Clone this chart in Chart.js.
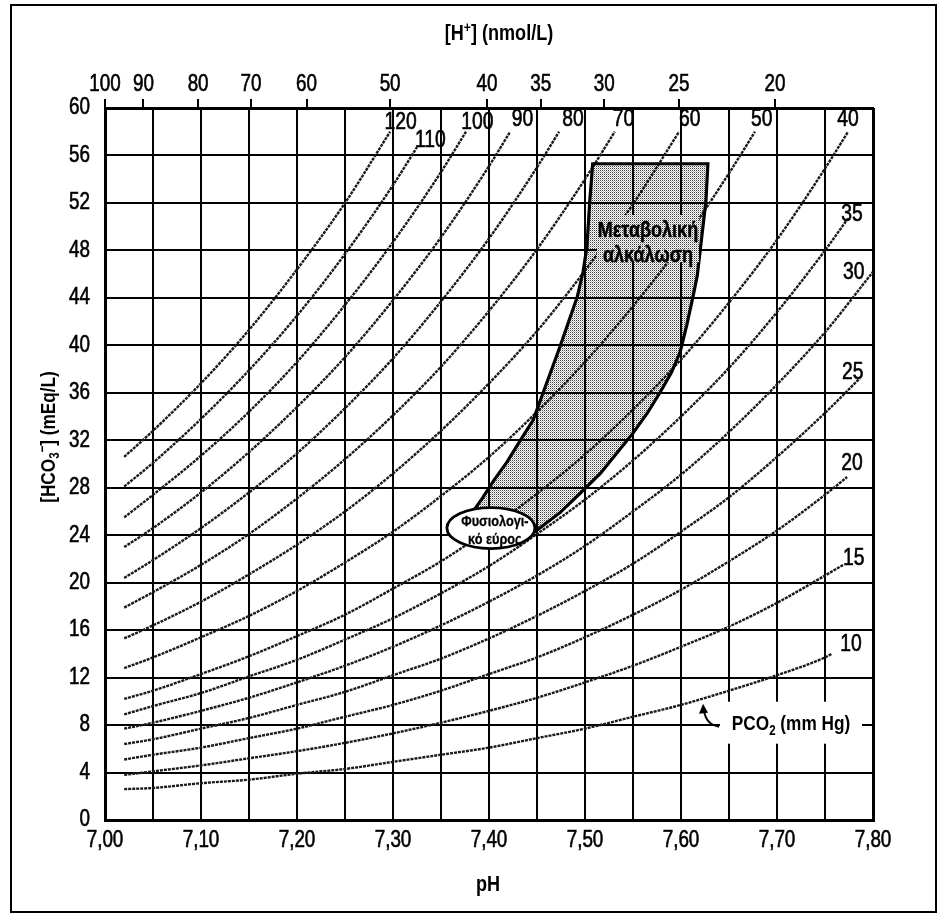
<!DOCTYPE html>
<html>
<head>
<meta charset="utf-8">
<script src="https://cdn.jsdelivr.net/npm/chart.js@4.4.1/dist/chart.umd.min.js"></script>
<style>
html,body{margin:0;padding:0;background:#fff;}
canvas{display:block;}
</style>
</head>
<body>
<canvas id="c" width="942" height="917"></canvas>
<script>
// ---------- DATA ----------
const PH_GRID = [7.02, 7.05, 7.10, 7.15, 7.20, 7.25, 7.30, 7.35, 7.40, 7.45, 7.50, 7.55, 7.60, 7.65, 7.70, 7.75, 7.80];
const PCO2_LEVELS = [10, 15, 20, 25, 30, 35, 40, 50, 60, 70, 80, 90, 100, 110, 120];

// HCO3- (mEq/L) read along each PCO2 isopleth at PH_GRID, last value at the curve's end pH
const HCO3_P10  = [2.6, 2.7, 3.1, 3.4, 3.9, 4.3, 4.9, 5.5, 6.1, 6.9, 7.7, 8.7, 9.7, 10.9, 12.2, 13.7, 14.0];
const HCO3_P15  = [3.8, 4.1, 4.6, 5.2, 5.8, 6.5, 7.3, 8.2, 9.2, 10.3, 11.6, 13.0, 14.6, 16.3, 18.3, 20.6, 21.5];
const HCO3_P20  = [5.1, 5.5, 6.1, 6.9, 7.7, 8.7, 9.7, 10.9, 12.3, 13.7, 15.4, 17.3, 19.4, 21.8, 24.4, 27.4, 28.9];
const HCO3_P25  = [6.4, 6.8, 7.7, 8.6, 9.7, 10.8, 12.2, 13.6, 15.3, 17.2, 19.3, 21.6, 24.3, 27.2, 30.6, 34.3, 37.2];
const HCO3_P30  = [7.7, 8.2, 9.2, 10.3, 11.6, 13.0, 14.6, 16.4, 18.4, 20.6, 23.1, 26.0, 29.1, 32.7, 36.7, 41.1, 46.2];
const HCO3_P35  = [8.9, 9.6, 10.7, 12.1, 13.5, 15.2, 17.0, 19.1, 21.4, 24.1, 27.0, 30.3, 34.0, 38.1, 42.8, 48.0, 50.7];
const HCO3_P40  = [10.2, 10.9, 12.3, 13.8, 15.5, 17.3, 19.5, 21.8, 24.5, 27.5, 30.8, 34.6, 38.8, 43.6, 48.9, 54.9, 58.0];
const HCO3_P50  = [12.8, 13.7, 15.4, 17.2, 19.3, 21.7, 24.3, 27.3, 30.6, 34.4, 38.6, 43.3, 48.5, 54.5, 58.0];
const HCO3_P60  = [15.3, 16.4, 18.4, 20.7, 23.2, 26.0, 29.2, 32.8, 36.8, 41.2, 46.3, 51.9, 58.0];
const HCO3_P70  = [17.9, 19.2, 21.5, 24.1, 27.1, 30.4, 34.1, 38.2, 42.9, 48.1, 54.0, 58.0];
const HCO3_P80  = [20.4, 21.9, 24.6, 27.6, 30.9, 34.7, 38.9, 43.7, 49.0, 55.0, 58.0];
const HCO3_P90  = [23.0, 24.6, 27.6, 31.0, 34.8, 39.0, 43.8, 49.1, 55.1, 58.0];
const HCO3_P100 = [25.5, 27.4, 30.7, 34.4, 38.6, 43.4, 48.7, 54.6, 58.0];
const HCO3_P110 = [28.1, 30.1, 33.8, 37.9, 42.5, 47.7, 53.5, 56.7];
const HCO3_P120 = [30.6, 32.8, 36.8, 41.3, 46.4, 52.0, 58.0];
const CURVE_END_PH = [7.757, 7.769, 7.773, 7.786, 7.80, 7.774, 7.774, 7.677, 7.598, 7.531, 7.473, 7.422, 7.376, 7.325, 7.297];

// where each PCO2 number is written (pH, HCO3)
const CURVE_LABEL_PH   = [7.777, 7.780, 7.778, 7.779, 7.780, 7.778, 7.774, 7.684, 7.609, 7.540, 7.4875, 7.435, 7.388, 7.339, 7.308];
const CURVE_LABEL_HCO3 = [14.9, 22.2, 30.2, 37.9, 46.3, 51.2, 59.2, 59.2, 59.2, 59.2, 59.2, 59.2, 58.9, 57.4, 58.9];

// metabolic alkalosis band outline (pH, HCO3), left edge upward then right edge downward
const REGION_PH   = [7.380, 7.386, 7.393, 7.404, 7.419, 7.432, 7.446, 7.460, 7.474, 7.483, 7.492, 7.498, 7.502, 7.505, 7.508,
                     7.628, 7.626, 7.623, 7.620, 7.617, 7.6125, 7.606, 7.599, 7.590, 7.578, 7.565, 7.550, 7.533, 7.516,
                     7.496, 7.474, 7.448, 7.422, 7.391, 7.380];
const REGION_HCO3 = [25.6, 26.3, 27.1, 28.5, 30.2, 31.9, 33.7, 36.8, 39.9, 42.0, 44.1, 46.2, 48.3, 52.2, 55.3,
                     55.3, 52.2, 50.1, 48.0, 45.9, 44.1, 41.7, 39.4, 37.7, 36.0, 34.3, 32.6, 30.9, 29.2,
                     27.6, 25.9, 24.3, 23.6, 25.0, 25.6];

// axes
const X_TICKS = [7.00, 7.05, 7.10, 7.15, 7.20, 7.25, 7.30, 7.35, 7.40, 7.45, 7.50, 7.55, 7.60, 7.65, 7.70, 7.75, 7.80];
const X_TICK_LABELS = ['7,00', '', '7,10', '', '7,20', '', '7,30', '', '7,40', '', '7,50', '', '7,60', '', '7,70', '', '7,80'];
const Y_TICKS = [0, 4, 8, 12, 16, 20, 24, 28, 32, 36, 40, 44, 48, 52, 56, 60];
const Y_TICK_LABELS = ['0', '4', '8', '12', '16', '20', '24', '28', '32', '36', '40', '44', '48', '52', '56', '60'];
const H_LABELS  = [100, 90, 80, 70, 60, 50, 40, 35, 30, 25, 20];
const H_TICK_PH = [7.000, 7.040, 7.097, 7.152, 7.210, 7.297, 7.398, 7.454, 7.520, 7.598, 7.698];

// annotation anchors (data coordinates)
const NORMAL_POINT = [7.402, 24.6];
const METAB_POINT  = [7.5656, 48.7];
const PCO2_NOTE_POINT = [7.7146, 8.2];

// ---------- BUILD ----------
const TICK_FONT = "'Liberation Sans', Arial, sans-serif";
const TXT_FONT = "'Liberation Sans', Arial, sans-serif";
const SX = 0.82; // condensed lettering
const CURVES = [HCO3_P10, HCO3_P15, HCO3_P20, HCO3_P25, HCO3_P30, HCO3_P35, HCO3_P40, HCO3_P50,
                HCO3_P60, HCO3_P70, HCO3_P80, HCO3_P90, HCO3_P100, HCO3_P110, HCO3_P120];

const canvas = document.getElementById('c');
const mainCtx = canvas.getContext('2d');

function makeStipple() {
  const p = document.createElement('canvas');
  p.width = 2; p.height = 2;
  const g = p.getContext('2d');
  g.fillStyle = 'rgba(0,0,0,0.75)'; g.fillRect(0, 0, 1, 1);
  g.fillStyle = 'rgba(0,0,0,0.28)'; g.fillRect(1, 1, 1, 1);
  return mainCtx.createPattern(p, 'repeat');
}
const STIPPLE = makeStipple();

const curveSets = CURVES.map((vals, ci) => ({
  label: 'PCO2 ' + PCO2_LEVELS[ci],
  data: vals.map((v, i) => ({ x: i < vals.length - 1 ? PH_GRID[i] : CURVE_END_PH[ci], y: v })),
  borderColor: '#1a1a1a',
  borderWidth: 2.4,
  borderDash: [3, 1],
  cubicInterpolationMode: 'monotone',
  fill: false,
  order: 2
}));

const regionSet = {
  label: 'region',
  data: REGION_PH.map((p, i) => ({ x: p, y: REGION_HCO3[i] })),
  borderColor: '#000',
  borderWidth: 3.2,
  borderJoinStyle: 'miter',
  backgroundColor: STIPPLE,
  fill: 'shape',
  tension: 0,
  order: 1
};

// draw condensed text pieces centred on (cx, cy)
function richText(ctx, segs, cx, cy, size, weight, sx, thicken) {
  sx = sx || SX;
  let w = 0;
  const parts = segs.map(([t, k]) => {
    const s = k === 'n' ? size : Math.round(size * 0.66);
    ctx.font = `${weight} ${s}px ${TXT_FONT}`;
    const m = ctx.measureText(t).width;
    w += m;
    return { t, k, s, m };
  });
  ctx.save();
  ctx.translate(cx, cy);
  ctx.scale(sx, 1);
  let x = -w / 2;
  ctx.textAlign = 'left';
  ctx.textBaseline = 'alphabetic';
  ctx.strokeStyle = ctx.fillStyle;
  ctx.lineWidth = thicken || 0;
  const base = size * 0.36;
  parts.forEach(p => {
    ctx.font = `${weight} ${p.s}px ${TXT_FONT}`;
    const dy = p.k === 'sub' ? size * 0.22 : p.k === 'sup' ? -size * 0.38 : 0;
    ctx.fillText(p.t, x, base + dy);
    if (thicken) ctx.strokeText(p.t, x, base + dy);
    x += p.m;
  });
  ctx.restore();
}

const decor = {
  id: 'decor',
  beforeDraw(chart) {
    const ctx = chart.ctx;
    ctx.save();
    ctx.fillStyle = '#fff';
    ctx.fillRect(0, 0, chart.width, chart.height);
    ctx.restore();
    // condensed, slightly heavier glyphs for the library's own tick labels
    Object.values(chart.scales).forEach(s => {
      if (s._condensed) return;
      const orig = s.drawLabels.bind(s);
      s.drawLabels = function (area) {
        const c = this.ctx;
        const of = c.fillText;
        c.fillText = function (t, x, y) {
          this.save();
          this.translate(x, y);
          this.scale(SX, 1);
          of.call(this, t, 0, 0);
          this.strokeStyle = this.fillStyle;
          this.lineWidth = 0.6;
          this.strokeText(t, 0, 0);
          this.restore();
        };
        try { orig(area); } finally { c.fillText = of; }
      };
      s._condensed = true;
    });
  },
  afterDatasetsDraw(chart) {
    const ctx = chart.ctx;
    const xs = chart.scales.x, ys = chart.scales.y;
    const px = v => xs.getPixelForValue(v), py = v => ys.getPixelForValue(v);
    ctx.save();

    // metabolic alkalosis label (stippled, no grid behind)
    const mx = px(METAB_POINT[0]), my = py(METAB_POINT[1]);
    ctx.fillStyle = '#fff';
    ctx.fillRect(mx - 51, my - 27, 102, 47);
    ctx.fillStyle = STIPPLE;
    ctx.fillRect(mx - 51, my - 27, 102, 47);
    ctx.fillStyle = '#000';
    richText(ctx, [['Μεταβολική', 'n']], mx, my - 13, 22, 'bold', 0.82, 0.5);
    richText(ctx, [['αλκάλωση', 'n']], mx, my + 12, 22, 'bold', 0.82, 0.5);

    // PCO2 curve numbers
    PCO2_LEVELS.forEach((lv, i) => {
      richText(ctx, [[String(lv), 'n']], px(CURVE_LABEL_PH[i]), py(CURVE_LABEL_HCO3[i]), 23, 'normal', 0.84, 0.6);
    });

    // normal range ellipse
    const ex = px(NORMAL_POINT[0]), ey = py(NORMAL_POINT[1]);
    ctx.beginPath();
    ctx.ellipse(ex, ey, 44, 20.5, 0, 0, Math.PI * 2);
    ctx.fillStyle = '#fff';
    ctx.fill();
    ctx.lineWidth = 2.8;
    ctx.strokeStyle = '#000';
    ctx.stroke();
    ctx.fillStyle = '#000';
    richText(ctx, [['Φυσιολογι-', 'n']], ex + 4, ey - 8, 15.5, 'bold', 0.82, 0.3);
    richText(ctx, [['κό εύρος', 'n']], ex + 4, ey + 10, 15.5, 'bold', 0.82, 0.3);

    // PCO2 (mm Hg) note with arrow
    const nx = px(PCO2_NOTE_POINT[0]), ny = py(PCO2_NOTE_POINT[1]);
    ctx.fillStyle = '#fff';
    ctx.fillRect(nx - 71, ny - 21, 142, 42);
    ctx.fillStyle = '#000';
    richText(ctx, [['PCO', 'n'], ['2', 'sub'], [' (mm Hg)', 'n']], nx, ny, 21, 'bold', 0.82);
    ctx.beginPath();
    ctx.lineWidth = 2;
    ctx.strokeStyle = '#000';
    ctx.moveTo(nx - 72, ny + 4);
    ctx.quadraticCurveTo(nx - 85, ny + 2, nx - 87, ny - 12);
    ctx.stroke();
    ctx.beginPath();
    ctx.moveTo(nx - 88, ny - 19);
    ctx.lineTo(nx - 92, ny - 9);
    ctx.lineTo(nx - 83, ny - 10);
    ctx.closePath();
    ctx.fill();
    ctx.restore();
  },
  afterDraw(chart) {
    const ctx = chart.ctx;
    ctx.save();
    ctx.fillStyle = '#000';
    richText(ctx, [['[H', 'n'], ['+', 'sup'], ['] (nmol/L)', 'n']], 499, 32, 22, 'bold');
    richText(ctx, [['pH', 'n']], 488, 883, 22, 'bold');
    ctx.translate(47, 437);
    ctx.rotate(-Math.PI / 2);
    richText(ctx, [['[HCO', 'n'], ['3', 'sub'], ['−', 'sup'], ['] (mEq/L)', 'n']], 0, 0, 21, 'bold');
    ctx.restore();
    ctx.save();
    ctx.strokeStyle = '#000';
    ctx.lineWidth = 2;
    ctx.strokeRect(11, 5, 925, 907);
    ctx.restore();
  }
};

const edgeW = (vals) => (c) => (c.tick && vals.some(v => Math.abs(c.tick.value - v) < 1e-6)) ? 3 : 2;

new Chart(canvas, {
  type: 'line',
  data: { datasets: [regionSet, ...curveSets] },
  options: {
    responsive: false,
    devicePixelRatio: 1,
    animation: false,
    layout: { padding: { left: 0, right: 69, top: 0, bottom: 0 } },
    elements: { point: { radius: 0, hoverRadius: 0 } },
    plugins: { legend: { display: false }, tooltip: { enabled: false } },
    scales: {
      x: {
        type: 'linear', position: 'bottom', min: 7, max: 7.8,
        afterBuildTicks: s => { s.ticks = X_TICKS.map(v => ({ value: v })); },
        ticks: { autoSkip: false, maxRotation: 0, color: '#000', font: { family: TICK_FONT, size: 23 }, padding: 7,
                 callback: (v, i) => X_TICK_LABELS[i] },
        grid: { color: '#000', lineWidth: edgeW([7.0, 7.8]), drawTicks: false },
        border: { display: true, color: '#000', width: 3 },
        afterFit: s => { s.height = 97; }
      },
      x2: {
        type: 'linear', position: 'top', min: 7, max: 7.8,
        afterBuildTicks: s => { s.ticks = H_TICK_PH.map(v => ({ value: v })); },
        ticks: { autoSkip: false, maxRotation: 0, color: '#000', font: { family: TICK_FONT, size: 23 }, padding: 1,
                 callback: (v, i) => String(H_LABELS[i]) },
        grid: { drawOnChartArea: false, drawTicks: true, tickLength: 9, tickColor: '#000', tickWidth: 2, color: '#000', lineWidth: 2 },
        border: { display: true, color: '#000', width: 3 },
        afterFit: s => { s.height = 108; }
      },
      y: {
        type: 'linear', min: 0, max: 60,
        afterBuildTicks: s => { s.ticks = Y_TICKS.map(v => ({ value: v })); },
        ticks: { color: '#000', font: { family: TICK_FONT, size: 23 }, padding: 15,
                 callback: (v, i) => Y_TICK_LABELS[i] },
        grid: { color: '#000', lineWidth: edgeW([0, 60]), drawTicks: false },
        border: { display: true, color: '#000', width: 3 },
        afterFit: s => { s.width = 105; }
      }
    }
  },
  plugins: [decor]
});
</script>
</body>
</html>
